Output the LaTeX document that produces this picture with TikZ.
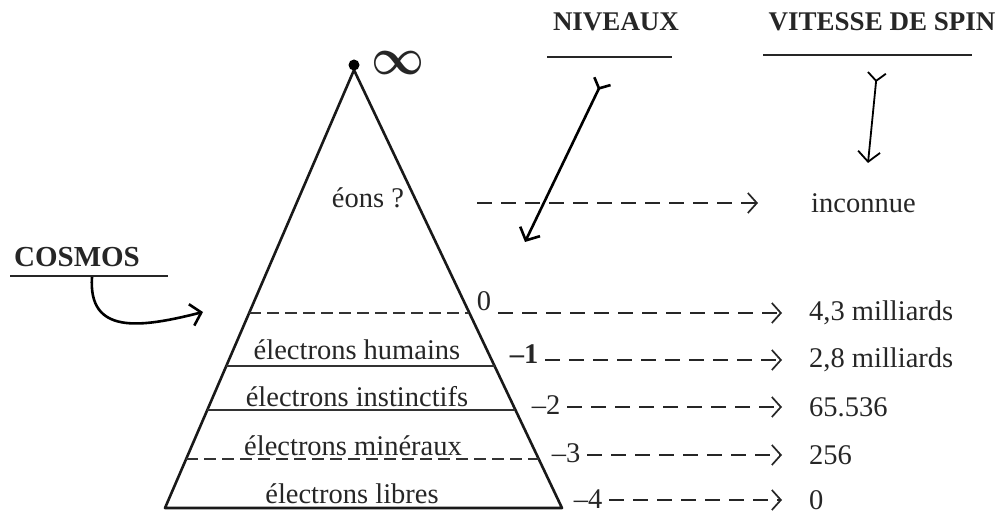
\documentclass[tikz,border=0pt]{standalone}
\usepackage{fontspec}
\usepackage{graphicx}
\setmainfont{Liberation Serif}
\usetikzlibrary{arrows.meta,calc}

\begin{document}
\begin{tikzpicture}[x=1pt, y=-1pt, font=\fontsize{28.5}{34}\selectfont,
  lbl/.style={inner sep=1pt, text=black!85},
  head/.style={lbl, font=\fontsize{27}{32}\selectfont\bfseries},
  val/.style={lbl, anchor=west},
  edge/.style={draw=black!90, line width=2.6pt, line join=round},
  level/.style={draw=black!80, line width=1.5pt},
  gapline/.style={dash pattern=on 12pt off 6pt},
  rule/.style={draw=black!85, line width=2pt},
  flow/.style={draw=black!85, line width=1.7pt, dash pattern=on 15pt off 9pt,
    shorten <=6pt, shorten >=26pt, -{Straight Barb[length=9pt,width=20pt]}},
  pointer/.style={draw=black, line width=2.6pt,
    {Straight Barb[reversed,length=8pt,width=18pt]}-{Straight Barb[length=10pt,width=22pt]}}]
\useasboundingbox (0,0) rectangle (1004,521);
\coordinate (apex) at (354,70);
\coordinate (bl) at (165,508);
\coordinate (br) at (562,508);
\draw[edge] (bl) -- (apex) -- (br) -- cycle;
\node[circle, fill=black, inner sep=0pt, minimum size=11pt] (top) at (354,65) {};
\node[lbl] (inf) at (398,63) {\resizebox{53pt}{23pt}{\boldmath$\infty$}};
\foreach \t/\s in {0.555/gapline, 0.676/solid, 0.776/solid, 0.888/gapline}
  \draw[level, \s] ($(apex)!\t!(bl)$) -- ($(apex)!\t!(br)$);
\node[lbl] (eons) at (368,198) {éons ?};
\node[lbl] (hum) at (357,350) {électrons humains};
\node[lbl] (ins) at (357,397) {électrons instinctifs};
\node[lbl] (min) at (353,446) {électrons minéraux};
\node[lbl] (lib) at (352,494) {électrons libres};
\node[head] (niv) at (616,22) {NIVEAUX};
\node[head] (vit) at (882,22) {VITESSE DE SPIN};
\node[head, font=\fontsize{29}{34}\selectfont\bfseries] (cos) at (77,257) {COSMOS};
\draw[rule] (547,57) -- (672,57);
\draw[rule] (763,55) -- (972,55);
\draw[rule] (10,276) -- (168,276);
\node[val] (inc) at (810,203) {inconnue};
\draw[flow, shorten >=52pt] ([xshift=66pt]eons.east |- inc.west) -- (inc.west);
\foreach \i/\lx/\ly/\lab/\vy/\val in {
  a/484/301/0/313/{4,3 milliards},
  b/524/354/{\textbf{--1}}/360/{2,8 milliards},
  c/546/405/{--2}/407/{65.536},
  d/566/453/{--3}/455/{256},
  e/588/499/{--4}/500/{0}}
{
  \node[lbl] (l\i) at (\lx,\ly) {\lab};
  \node[val] (v\i) at (808,\vy) {\val};
  \draw[flow] (l\i.east |- v\i.west) -- (v\i.west);
}
\coordinate (nivtail) at (603,80);
\coordinate (nivtip) at (525,242);
\draw[pointer] (nivtail) -- (nivtip);
\coordinate (vittail) at (877,72);
\coordinate (vittip) at (868,163);
\draw[pointer, line width=1.8pt] (vittail) -- (vittip);
\coordinate (cosfoot) at (92,277);
\coordinate (costip) at (203,312);
\draw[draw=black, line width=2.6pt, -{Straight Barb[length=10pt,width=22pt]}]
  (cosfoot) .. controls (88,335) and (140,328) .. (costip);
\end{tikzpicture}
\end{document}
